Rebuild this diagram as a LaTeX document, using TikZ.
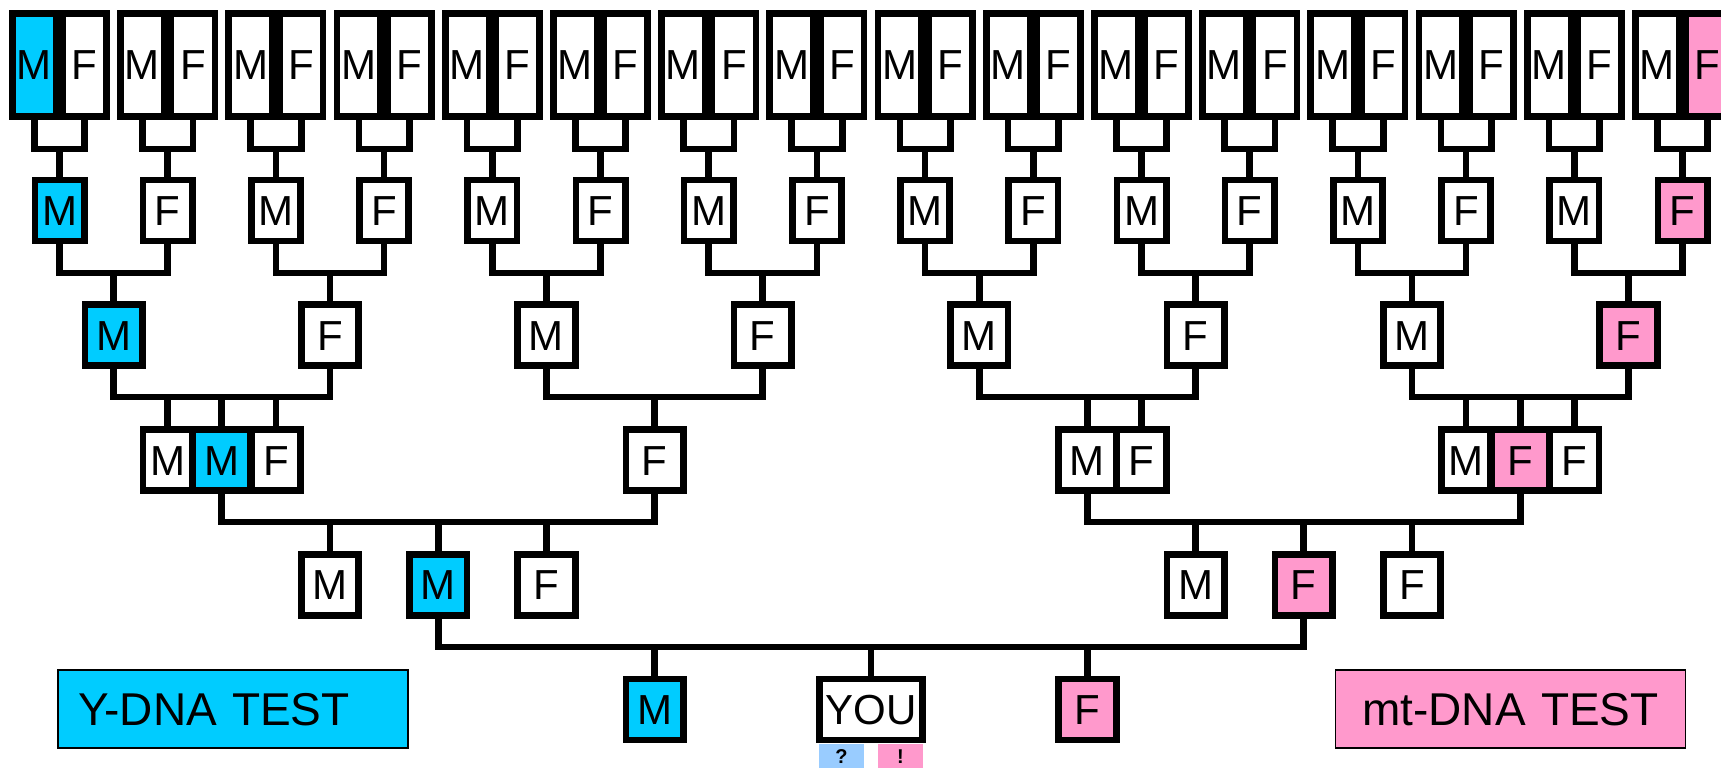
\documentclass[tikz,border=0pt]{standalone}
\usepackage{fontspec}
\setmainfont{Liberation Sans}
\definecolor{ybl}{HTML}{00CCFF}
\definecolor{mpk}{HTML}{FF99CC}
\definecolor{qbl}{HTML}{99CCFF}
\pgfmathdeclarefunction{gx}{1}{\pgfmathparse{5.4+54.1*#1}}
\begin{document}
\begin{tikzpicture}[x=1pt,y=-1pt,
  box/.style={draw, line width=6.7pt, fill=white, inner sep=0pt, outer sep=0pt,
    minimum width=57.5pt, minimum height=61pt,
    font=\fontsize{42}{50}\selectfont, text height=30pt, text depth=0pt},
  narrow/.style={box, minimum width=49.3pt},
  tall/.style={box, minimum width=43.8pt, minimum height=103.3pt},
  wide/.style={box, minimum width=103.3pt},
  conn/.style={draw, line width=6.7pt},
  test/.style={draw, line width=1.7pt, inner ysep=0pt, outer sep=0pt,
    minimum height=78.3pt, font=\fontsize{46}{54}\selectfont, text height=33pt, text depth=0pt},
  tag/.style={inner sep=0pt, outer sep=0pt, minimum width=45pt, minimum height=26pt,
    font=\bfseries\fontsize{20}{24}\selectfont}
]
\useasboundingbox (0,0) rectangle (1721,768);

% ---- Row 1: pairs ----
\foreach \k in {0,...,15}{
  \pgfmathsetmacro\c{5.4+108.2*\k+54.1}
  \ifnum\k=0 \def\mfl{ybl}\else\def\mfl{white}\fi
  \ifnum\k=15 \def\ffl{mpk}\else\def\ffl{white}\fi
  \node[tall, fill=\mfl] (pm\k) at (\c-25.25,65) {M};
  \node[tall, fill=\ffl] (pf\k) at (\c+25.25,65) {F};
  \coordinate (u\k) at (\c,149);
}
% ---- Row 2 ----
\foreach \k in {0,...,15}{
  \pgfmathsetmacro\c{5.4+108.2*\k+54.1}
  \ifnum\k=0 \def\fl{ybl}\else\ifnum\k=15 \def\fl{mpk}\else\def\fl{white}\fi\fi
  \node[narrow, fill=\fl] (r2-\k) at (\c,210.5) {\ifodd\k F\else M\fi};
  \draw[conn] (pm\k.south) |- (u\k) -| (pf\k.south);
  \draw[conn] (u\k) -- (r2-\k.north);
}
% ---- Row 3 ----
\foreach \j in {0,...,7}{
  \pgfmathsetmacro\c{5.4+54.1*(2+4*\j)}
  \pgfmathtruncatemacro\ka{2*\j}
  \pgfmathtruncatemacro\kb{2*\j+1}
  \ifnum\j=0 \def\fl{ybl}\else\ifnum\j=7 \def\fl{mpk}\else\def\fl{white}\fi\fi
  \node[box, fill=\fl] (r3-\j) at (\c,335.3) {\ifodd\j F\else M\fi};
  \coordinate (b3-\j) at (\c,273);
  \draw[conn] (r2-\ka.south) |- (b3-\j) -| (r2-\kb.south);
  \draw[conn] (b3-\j) -- (r3-\j.north);
}
% ---- Row 4 ----
\node[narrow] (a1) at ({gx(3)},460) {M};
\node[narrow] (a3) at ({gx(5)},460) {F};
\node[box, fill=ybl] (a2) at ({gx(4)},460) {M};
\node[box] (bb) at ({gx(12)},460) {F};
\node[narrow] (c2) at ({gx(21)},460) {F};
\node[box] (c1) at ({gx(20)},460) {M};
\node[narrow] (d1) at ({gx(27)},460) {M};
\node[narrow] (d3) at ({gx(29)},460) {F};
\node[box, fill=mpk] (d2) at ({gx(28)},460) {F};

\coordinate (b4a) at ({gx(4)},397);
\coordinate (b4b) at ({gx(12)},397);
\coordinate (b4c) at ({gx(20)},397);
\coordinate (b4d) at ({gx(28)},397);
\draw[conn] (r3-0.south) |- (b4a) -| (r3-1.south);
\draw[conn] (r3-2.south) |- (b4b) -| (r3-3.south);
\draw[conn] (r3-4.south) |- (b4c) -| (r3-5.south);
\draw[conn] (r3-6.south) |- (b4d) -| (r3-7.south);
\foreach \n/\b in {a1/b4a,a2/b4a,a3/b4a,bb/b4b,c1/b4c,c2/b4c,d1/b4d,d2/b4d,d3/b4d}{
  \draw[conn] (\n.north) -- (\n.north |- \b);
}
% ---- Row 5 ----
\node[box] (r5a) at ({gx(6)},584.8) {M};
\node[box, fill=ybl] (r5b) at ({gx(8)},584.8) {M};
\node[box] (r5c) at ({gx(10)},584.8) {F};
\node[box] (r5d) at ({gx(22)},584.8) {M};
\node[box, fill=mpk] (r5e) at ({gx(24)},584.8) {F};
\node[box] (r5f) at ({gx(26)},584.8) {F};
\coordinate (b5L) at ({gx(8)},522);
\coordinate (b5R) at ({gx(24)},522);
\draw[conn] (a2.south) |- (b5L) -| (bb.south);
\draw[conn] (c1.south) |- (b5R) -| (d2.south);
\foreach \n/\b in {r5a/b5L,r5b/b5L,r5c/b5L,r5d/b5R,r5e/b5R,r5f/b5R}{
  \draw[conn] (\n.north) -- (\n.north |- \b);
}
% ---- Row 6 ----
\node[box, fill=ybl] (m6) at ({gx(12)},709.6) {M};
\node[wide] (you) at ({gx(16)},709.6) {YOU};
\node[box, fill=mpk] (f6) at ({gx(20)},709.6) {F};
\coordinate (b6) at ({gx(16)},647);
\draw[conn] (r5b.south) |- (b6) -| (r5e.south);
\foreach \n in {m6,you,f6}{
  \draw[conn] (\n.north) -- (\n.north |- b6);
}
% ---- tags under YOU ----
\node[tag, fill=qbl] (qq) at (841.5,757) {?};
\node[tag, fill=mpk] (ex) at (900.5,757) {!};

% ---- test legends ----
\node[test, fill=ybl, text width=310pt, align=left, inner xsep=20pt] (ydna) at (233,709) {Y-DNA TEST};
\node[test, fill=mpk, text width=310pt, align=center, inner xsep=20pt] (mtdna) at (1510.5,709) {mt-DNA TEST};
\end{tikzpicture}
\end{document}
